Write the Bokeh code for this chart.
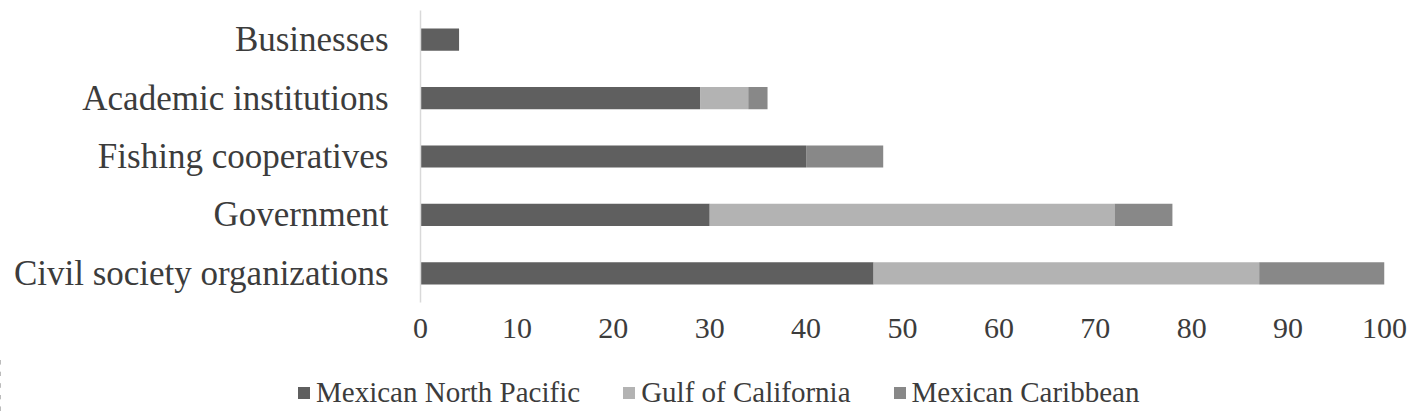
from bokeh.plotting import figure
from bokeh.models import ColumnDataSource, Legend, LegendItem, Range1d, FixedTicker
from bokeh.layouts import column, row
from bokeh.embed import file_html
from bokeh.resources import INLINE

categories = ["Businesses", "Academic institutions", "Fishing cooperatives", "Government", "Civil society organizations"]
north_pacific = [4, 29, 40, 30, 47]
gulf_california = [0, 5, 0, 42, 40]
caribbean = [0, 2, 8, 6, 13]
series = ["Mexican North Pacific", "Gulf of California", "Mexican Caribbean"]
colors = ["#5f5f5f", "#b3b3b3", "#888888"]
x_ticks = [0, 10, 20, 30, 40, 50, 60, 70, 80, 90, 100]

src = ColumnDataSource(dict(cat=categories, np_=north_pacific, gc=gulf_california, cb=caribbean))

font = "Liberation Serif"

p = figure(y_range=list(reversed(categories)), x_range=Range1d(0, 100),
           width=1410, height=356, output_backend="svg", toolbar_location=None,
           min_border_left=420, min_border_right=26, min_border_top=10, min_border_bottom=54)

rs = p.hbar_stack(["np_", "gc", "cb"], y="cat", height=0.38, color=colors, source=src, line_color=None)

p.xgrid.visible = False
p.ygrid.visible = False
p.outline_line_color = None

p.yaxis.axis_line_color = "#d9d9d9"
p.yaxis.axis_line_width = 1.5
p.yaxis.major_tick_line_color = None
p.yaxis.minor_tick_line_color = None
p.yaxis.major_label_text_font = font
p.yaxis.major_label_text_font_size = "35px"
p.yaxis.major_label_text_color = "#3c3c3c"
p.yaxis.major_label_standoff = 26

p.xaxis.ticker = FixedTicker(ticks=x_ticks)
p.xaxis.axis_line_color = None
p.xaxis.major_tick_line_color = None
p.xaxis.minor_tick_line_color = None
p.xaxis.major_label_text_font = font
p.xaxis.major_label_text_font_size = "30px"
p.xaxis.major_label_text_color = "#3c3c3c"
p.xaxis.major_label_standoff = 10

# legend panel
lg = figure(y_range=list(reversed(categories)), x_range=Range1d(1000, 1100),
            width=1410, height=58, output_backend="svg", toolbar_location=None,
            x_axis_location=None, y_axis_location=None,
            min_border_left=0, min_border_right=0, min_border_top=0, min_border_bottom=0)
lrs = lg.hbar_stack(["np_", "gc", "cb"], y="cat", height=0.38, color=colors, source=src, line_color=None)
lg.grid.visible = False
lg.outline_line_color = None

items = [LegendItem(label=s, renderers=[r]) for s, r in zip(series, lrs)]
legend = Legend(items=items, orientation="horizontal", location=(296, 5),
                label_text_font=font, label_text_font_size="29px", label_text_color="#3c3c3c",
                glyph_width=15, glyph_height=15, label_standoff=5, spacing=41,
                border_line_color=None, background_fill_alpha=0, padding=2, margin=0)
lg.add_layout(legend)

open("out.html", "w").write(file_html(column(p, row(lg), spacing=0), INLINE))
